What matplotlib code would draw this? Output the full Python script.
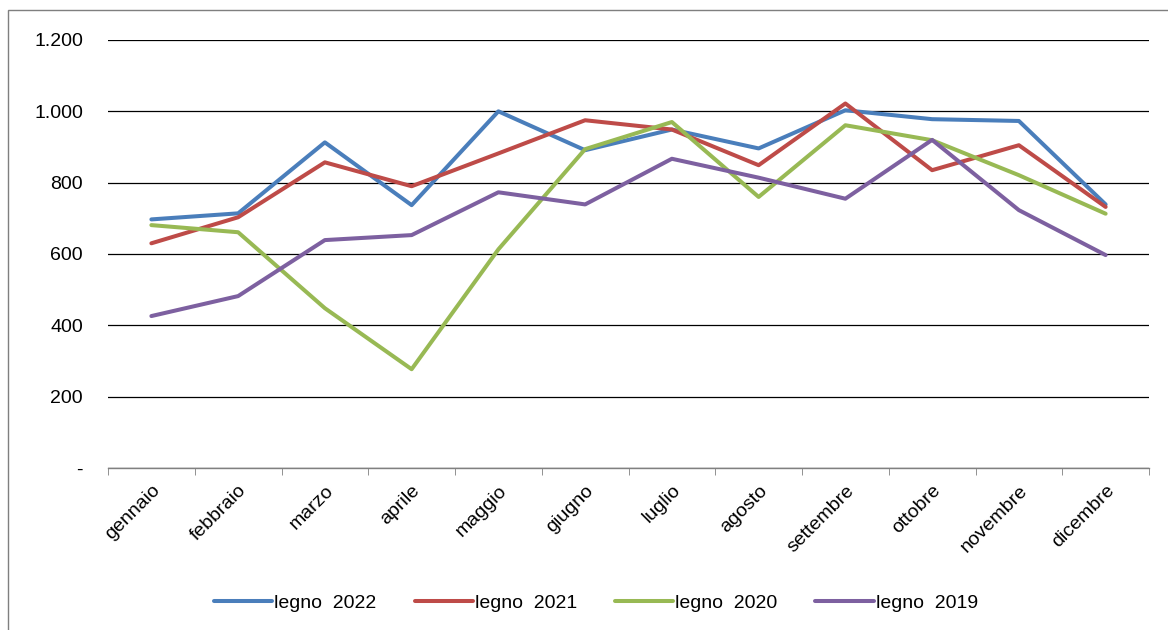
import matplotlib
matplotlib.use("Agg")
import matplotlib.pyplot as plt
from matplotlib.patches import Rectangle
from matplotlib.ticker import FuncFormatter, MultipleLocator
import numpy as np

plt.rcParams["font.family"] = ["Liberation Sans", "DejaVu Sans"]

mesi = ["gennaio", "febbraio", "marzo", "aprile", "maggio", "giugno",
        "luglio", "agosto", "settembre", "ottobre", "novembre", "dicembre"]

legno_2022 = [697, 714, 913, 737, 1000, 891, 949, 896, 1003, 978, 973, 739]
legno_2021 = [630, 703, 857, 790, 882, 975, 949, 849, 1022, 835, 905, 732]
legno_2020 = [681, 661, 448, 277, 613, 894, 970, 760, 961, 919, 821, 713]
legno_2019 = [426, 482, 639, 653, 773, 739, 867, 814, 755, 920, 723, 597]

serie = [
    ("legno  2022", legno_2022, "#4A7EBB"),
    ("legno  2021", legno_2021, "#BE4B48"),
    ("legno  2020", legno_2020, "#98B954"),
    ("legno  2019", legno_2019, "#7D60A0"),
]

fig = plt.figure(figsize=(11.68, 6.30), dpi=100)
# cornice esterna del grafico (come in Excel)
fig.patches.append(Rectangle((8 / 1168, -0.05), 1.2, 1 - 10 / 630 + 0.05,
                             transform=fig.transFigure, fill=False,
                             ec="#7f7f7f", lw=1.0))

ax = fig.add_axes([108 / 1168, 1 - 468 / 630, (1149 - 108) / 1168, (468 - 40) / 630])

x = np.arange(len(mesi))
for nome, vals, col in serie:
    ax.plot(x, vals, color=col, lw=2.9, label=nome, solid_capstyle="round")

ax.set_xlim(-0.5, len(mesi) - 0.5)
ax.set_ylim(0, 1200)
ax.yaxis.set_major_locator(MultipleLocator(200))
ax.yaxis.set_major_formatter(FuncFormatter(
    lambda v, p: "-" if v == 0 else f"{int(v):,}".replace(",", ".")))
ax.grid(axis="y", color="black", lw=0.9)
ax.set_axisbelow(True)

for s in ("left", "right", "top"):
    ax.spines[s].set_visible(False)
ax.spines["bottom"].set_color("#808080")
ax.spines["bottom"].set_linewidth(1.0)

ax.set_xticks(x)
ax.set_xticklabels(mesi, rotation=45, ha="right", rotation_mode="anchor", fontsize=14)
ax.tick_params(axis="x", length=0, pad=10)
ax.set_xticks(np.arange(-0.5, len(mesi)), minor=True)
ax.tick_params(axis="x", which="minor", length=5, color="#808080", direction="out")
ax.tick_params(axis="y", length=0, pad=18, labelsize=14)

fig.legend(loc="center", bbox_to_anchor=(596 / 1168, 1 - 603 / 630), ncol=4,
           frameon=False, fontsize=14, handlelength=3.0, handletextpad=0.1,
           columnspacing=1.95)

fig.savefig("out.png", dpi=100)
